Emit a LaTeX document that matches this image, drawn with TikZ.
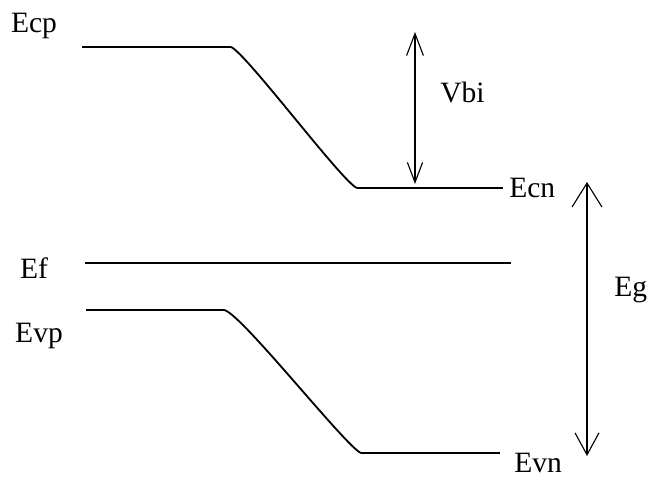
\documentclass[tikz,border=0pt]{standalone}
\usepackage{fontspec}
\setmainfont{Liberation Serif}
\usetikzlibrary{arrows.meta,positioning}

\begin{document}
\begin{tikzpicture}[
  x=0.025cm, y=-0.025cm,
  level/.style={line width=1.8pt},
  slope/.style={line width=1.3pt},
  tag/.style={font=\fontsize{21}{21}\selectfont, inner sep=0pt},
  vbiarr/.style={{Straight Barb[length=5.5mm, width=4.2mm]}-{Straight Barb[length=5mm, width=3.8mm]}, line width=0.8pt},
  egarr/.style={{Straight Barb[length=6mm, width=7.5mm]}-{Straight Barb[length=5.5mm, width=6mm]}, line width=0.8pt}
]
  \useasboundingbox (0,0) rectangle (652,484);
  % band edges
  \coordinate (cp0) at (82,47);   \coordinate (cp1) at (231,47);
  \coordinate (cn0) at (357,188); \coordinate (cn1) at (503,188);
  \coordinate (f0)  at (85,263);  \coordinate (f1)  at (511,263);
  \coordinate (vp0) at (86,310);  \coordinate (vp1) at (224,310);
  \coordinate (vn0) at (361,453); \coordinate (vn1) at (500,453);
  \draw[level] (cp0) -- (cp1);
  \draw[slope] (cp1) .. controls (246,53) and (343,183) .. (cn0);
  \draw[level] (cn0) -- (cn1);
  \draw[level] (f0) -- (f1);
  \draw[level] (vp0) -- (vp1);
  \draw[slope] (vp1) .. controls (240,312) and (346,447) .. (vn0);
  \draw[level] (vn0) -- (vn1);
  % labels
  \node[tag] (ecp) at (34,26)  {Ecp};
  \node[tag] (ef)  at (34,268) {Ef};
  \node[tag] (evp) at (39,336) {Evp};
  \node[tag, right=6 of cn1] (ecn) {Ecn};
  \node[tag, right=14 of vn1, yshift=-7] (evn) {Evn};
  % arrows
  \coordinate (vt) at (415,32);  \coordinate (vb) at (415,184);
  \draw[vbiarr] (vt) -- (vb);
  \node[tag, anchor=west] (vbi) at (440,92) {Vbi};
  \coordinate (gt) at (587,182); \coordinate (gb) at (587,456);
  \draw[egarr] (gt) -- (gb);
  \node[tag, anchor=west] (eg) at (614,290) {Eg};
\end{tikzpicture}
\end{document}
